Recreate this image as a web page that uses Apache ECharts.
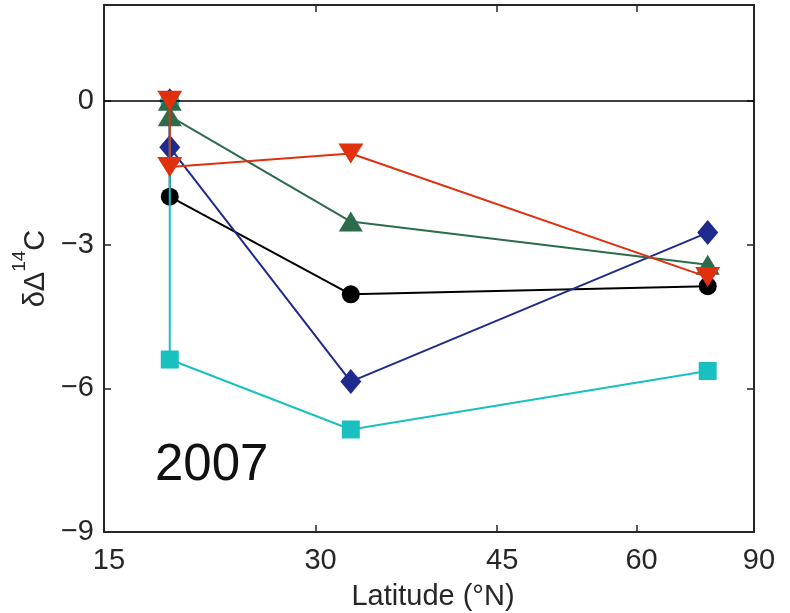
<!DOCTYPE html>
<html>
<head>
<meta charset="utf-8">
<script src="https://cdn.jsdelivr.net/npm/echarts@6/dist/echarts.min.js"></script>
<style>
  html, body { margin: 0; padding: 0; background: #ffffff; }
  #chart { width: 790px; height: 613px; }
</style>
</head>
<body>
<div id="chart"></div>
<script>
// Station latitudes (°N); the first station is the 0 reference for every run
const latitudes = [19.5, 19.5, 32.7, 71.3];

// δΔ14C at each station, one array per run
const blackValues = [0, -2.0, -4.04, -3.87];
const blueValues  = [0, -0.97, -5.86, -2.75];
const cyanValues  = [0, -5.4, -6.86, -5.64];
const greenValues = [0, -0.32, -2.52, -3.42];
const redValues   = [0, -1.38, -1.1, -3.68];

// Axis ticks
const xTickDegrees = [15, 30, 45, 60, 90];
const yTicks = [-9, -6, -3, 0];
const yRange = [-9, 2];
const panelYear = '2007';

// The latitude axis is area-weighted: positions are sin(latitude)
const toSin = d => Math.sin(d * Math.PI / 180);
const fromSin = s => Math.round(Math.asin(Math.min(1, Math.max(-1, s))) * 180 / Math.PI);

const FONT = '"Liberation Sans", Arial, Helvetica, sans-serif';
const INK = '#262626';
const xTickPos = xTickDegrees.map(toSin);

const yFmt = v => (v < 0 ? '\u2212' + Math.abs(v) : String(v));

function run(values, color, symbol, size, rotate, z) {
  return {
    type: 'line',
    data: latitudes.map((lat, i) => [toSin(lat), values[i]]),
    symbol: symbol,
    symbolSize: size,
    symbolRotate: rotate,
    showAllSymbol: true,
    z: z,
    lineStyle: { color: color, width: 2 },
    itemStyle: { color: color, borderWidth: 0 },
    emphasis: { disabled: true },
    animation: false
  };
}

const baseX = {
  type: 'value',
  min: toSin(xTickDegrees[0]),
  max: toSin(xTickDegrees[xTickDegrees.length - 1]),
  splitLine: { show: false },
  axisLine: { show: true, onZero: false, lineStyle: { color: INK, width: 2 } },
  axisTick: { show: true, inside: true, length: 7, customValues: xTickPos, lineStyle: { color: INK, width: 1.5 } },
};
const baseY = {
  type: 'value',
  min: yRange[0],
  max: yRange[1],
  interval: 3,
  splitLine: { show: false },
  axisLine: { show: true, onZero: false, lineStyle: { color: INK, width: 2 } },
  axisTick: { show: true, inside: true, length: 7, customValues: yTicks, lineStyle: { color: INK, width: 1.5 } },
};

const blackSeries = run(blackValues, '#000000', 'circle', 18, 0, 2);
blackSeries.markLine = {
  silent: true,
  symbol: ['none', 'none'],
  label: { show: false },
  lineStyle: { color: '#000000', width: 1.6, type: 'solid' },
  data: [{ yAxis: 0 }],
  animation: false
};

const chart = echarts.init(document.getElementById('chart'), null, { renderer: 'canvas' });
chart.setOption({
  backgroundColor: '#ffffff',
  animation: false,
  grid: { left: 104, right: 36, top: 5, bottom: 81, containLabel: false, outerBoundsMode: 'none' },
  xAxis: [
    Object.assign({}, baseX, {
      position: 'bottom',
      name: 'Latitude (\u00B0N)',
      nameLocation: 'middle',
      nameGap: 50,
      nameTextStyle: { fontFamily: FONT, fontSize: 29, color: INK, padding: [0, 0, 0, 8] },
      axisLabel: {
        show: true, margin: 14, customValues: xTickPos,
        fontFamily: FONT, fontSize: 29, color: INK,
        padding: [0, 0, 0, 10],
        formatter: v => String(fromSin(v))
      }
    }),
    Object.assign({}, baseX, { position: 'top', axisLabel: { show: false } })
  ],
  yAxis: [
    Object.assign({}, baseY, {
      position: 'left',
      name: '{a|\u03B4\u0394}{s|14}{a|C}',
      nameLocation: 'middle',
      nameGap: 49,
      nameTextStyle: {
        rich: {
          a: { fontFamily: FONT, fontSize: 29, color: INK, lineHeight: 40, verticalAlign: 'bottom' },
          s: { fontFamily: FONT, fontSize: 19, color: INK, lineHeight: 22, verticalAlign: 'top' }
        }
      },
      axisLabel: {
        show: true, margin: 10, customValues: yTicks,
        fontFamily: FONT, fontSize: 29, color: INK,
        formatter: yFmt
      }
    }),
    Object.assign({}, baseY, { position: 'right', axisLabel: { show: false } })
  ],
  graphic: [{
    type: 'text',
    left: 155,
    top: 440,
    style: { text: panelYear, font: '51px ' + FONT, fill: '#111111' },
    silent: true
  }],
  series: [
    blackSeries,
    run(blueValues, '#1e2a8e', 'diamond', [21, 25], 0, 3),
    run(cyanValues, '#19c0c0', 'rect', 18, 0, 4),
    run(greenValues, '#2c6b4c', 'triangle', [24, 20], 0, 5),
    run(redValues, '#e0300e', 'triangle', [25, 20], 180, 6)
  ]
});
</script>
</body>
</html>
